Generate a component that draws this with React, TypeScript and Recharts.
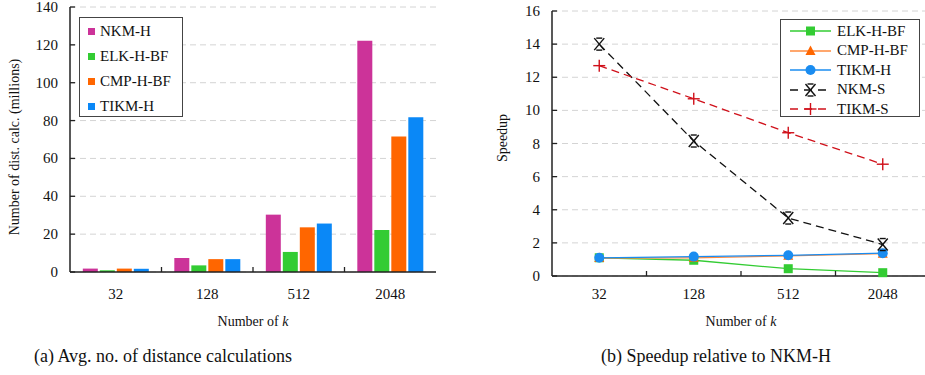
import { BarChart, Bar, LineChart, Line, XAxis, YAxis, CartesianGrid, Legend } from "recharts";

const SERIF = '"Liberation Serif", "Times New Roman", serif';

const categories = ["32", "128", "512", "2048"];

// (a) distance calculations, millions
const nkmH = [1.8, 7.4, 30.3, 122.2];
const elkHbf = [0.9, 3.5, 10.6, 22.2];
const cmpHbf = [1.8, 6.8, 23.6, 71.6];
const tikmH = [1.7, 6.8, 25.6, 81.8];
const distTicks = [0, 20, 40, 60, 80, 100, 120, 140];

// (b) speedup relative to NKM-H
const elkSpeed = [1.1, 0.95, 0.44, 0.2];
const cmpSpeed = [1.08, 1.1, 1.22, 1.35];
const tikmHSpeed = [1.1, 1.17, 1.25, 1.38];
const nkmSSpeed = [14.0, 8.15, 3.5, 1.9];
const tikmSSpeed = [12.7, 10.7, 8.65, 6.75];
const speedTicks = [0, 2, 4, 6, 8, 10, 12, 14, 16];

const barSeries = [
  { key: "nkmH", name: "NKM-H", color: "#cc3399" },
  { key: "elk", name: "ELK-H-BF", color: "#33cc33" },
  { key: "cmp", name: "CMP-H-BF", color: "#ff6600" },
  { key: "tikm", name: "TIKM-H", color: "#0a88f7" },
];

const lineSeries = [
  { key: "elk", name: "ELK-H-BF", color: "#33cc33", dash: undefined, marker: "square" },
  { key: "cmp", name: "CMP-H-BF", color: "#ff8a3d", dash: undefined, marker: "triangle" },
  { key: "tikm", name: "TIKM-H", color: "#1a8cf0", dash: undefined, marker: "circle" },
  { key: "nkmS", name: "NKM-S", color: "#111111", dash: "8 5", marker: "x" },
  { key: "tikmS", name: "TIKM-S", color: "#d0101a", dash: "8 5", marker: "plus" },
];

const barData = categories.map((k, i) => ({
  k,
  nkmH: nkmH[i],
  elk: elkHbf[i],
  cmp: cmpHbf[i],
  tikm: tikmH[i],
}));

const speedData = categories.map((k, i) => ({
  k,
  elk: elkSpeed[i],
  cmp: cmpSpeed[i],
  tikm: tikmHSpeed[i],
  nkmS: nkmSSpeed[i],
  tikmS: tikmSSpeed[i],
}));

const AXIS = "#222";

function Marker({ type, cx, cy, color }: any) {
  if (cx == null || cy == null) return null;
  if (type === "square")
    return <rect x={cx - 4.5} y={cy - 4.5} width={9} height={9} fill="#33cc33" />;
  if (type === "triangle")
    return <path d={`M${cx},${cy - 5.5}L${cx + 5},${cy + 4}L${cx - 5},${cy + 4}Z`} fill="#ff6600" />;
  if (type === "circle") return <circle cx={cx} cy={cy} r={5} fill={color} />;
  if (type === "x")
    return (
      <g stroke={color} strokeWidth={1.4}>
        <line x1={cx - 5} y1={cy - 6} x2={cx + 5} y2={cy + 6} />
        <line x1={cx - 5} y1={cy + 6} x2={cx + 5} y2={cy - 6} />
        <line x1={cx - 3} y1={cy - 6} x2={cx + 3} y2={cy - 6} />
        <line x1={cx - 3} y1={cy + 6} x2={cx + 3} y2={cy + 6} />
      </g>
    );
  return (
    <g stroke={color} strokeWidth={1.4}>
      <line x1={cx - 6} y1={cy} x2={cx + 6} y2={cy} />
      <line x1={cx} y1={cy - 6} x2={cx} y2={cy + 6} />
    </g>
  );
}

function makeYTick(plotLeft: number) {
  return (p: any) => (
    <g>
      <line x1={plotLeft} x2={plotLeft + 5} y1={p.y} y2={p.y} stroke={AXIS} strokeWidth={1.3} />
      <text x={plotLeft - 12} y={p.y} dy={5} textAnchor="end" fontFamily={SERIF} fontSize={15} fill="#111">
        {p.payload.value}
      </text>
    </g>
  );
}

function makeXTick(plotBottom: number, band: number) {
  return (p: any) => (
    <g>
      {p.index > 0 && (
        <line x1={p.x - band / 2} x2={p.x - band / 2} y1={plotBottom} y2={plotBottom - 5} stroke={AXIS} strokeWidth={1.3} />
      )}
      <text x={p.x} y={299} textAnchor="middle" fontFamily={SERIF} fontSize={15} fill="#111">
        {p.payload.value}
      </text>
    </g>
  );
}

function BarLegend() {
  return (
    <div
      style={{
        width: 102,
        height: 98,
        border: "1.5px solid #444",
        background: "#fff",
        position: "relative",
        fontFamily: SERIF,
        fontSize: 15,
        color: "#111",
      }}
    >
      {barSeries.map((s, i) => (
        <div key={s.key} style={{ position: "absolute", left: 8, top: 4 + i * 25, height: 18, display: "flex", alignItems: "center" }}>
          <span style={{ width: 7, height: 7, background: s.color, marginRight: 5 }} />
          <span>{s.name}</span>
        </div>
      ))}
    </div>
  );
}

function LineLegend() {
  return (
    <div
      style={{
        width: 138,
        height: 96,
        border: "1.5px solid #444",
        background: "#fff",
        position: "relative",
        fontFamily: SERIF,
        fontSize: 15,
        color: "#111",
      }}
    >
      {lineSeries.map((s, i) => (
        <div key={s.key} style={{ position: "absolute", left: 9, top: 1 + i * 19.5, height: 20, display: "flex", alignItems: "center" }}>
          <svg width={42} height={20} style={{ marginRight: 5 }}>
            <line x1={0} x2={41} y1={10} y2={10} stroke={s.color} strokeWidth={1.3} strokeDasharray={s.dash ? "8 6" : undefined} />
            <Marker type={s.marker} cx={20.5} cy={10} color={s.color} />
          </svg>
          <span>{s.name}</span>
        </div>
      ))}
    </div>
  );
}

const textStyle: any = { position: "absolute", fontFamily: SERIF, color: "#111", whiteSpace: "nowrap" };

export default function App() {
  return (
    <div style={{ position: "absolute", left: 0, top: 0, width: 925, height: 375, overflow: "hidden", background: "#fff" }}>
      <div style={{ position: "absolute", left: 0, top: 0 }}>
        <BarChart width={445} height={310} data={barData} margin={{ top: 7, right: 9, left: 0, bottom: 0 }} barCategoryGap="14%" barGap={2}>
          <CartesianGrid vertical={false} stroke="#d4d4d4" strokeDasharray="6 4" />
          <XAxis dataKey="k" height={38} tickLine={false} axisLine={{ stroke: AXIS, strokeWidth: 1.5 }} tick={makeXTick(272, 91.5)} interval={0} />
          <XAxis xAxisId="top" dataKey="k" orientation="top" height={0} tick={false} tickLine={false} axisLine={{ stroke: AXIS, strokeWidth: 1.5 }} />
          <YAxis width={70} domain={[0, 140]} ticks={distTicks} tickLine={false} axisLine={{ stroke: AXIS, strokeWidth: 1.5 }} tick={makeYTick(70)} interval={0} />
          <YAxis yAxisId="r" orientation="right" width={0} domain={[0, 140]} tick={false} tickLine={false} axisLine={{ stroke: "#555", strokeWidth: 1.5 }} />
          <Legend
            layout="vertical"
            align="center"
            verticalAlign="middle"
            content={() => <BarLegend />}
            wrapperStyle={{ position: "absolute", left: 79, top: 17, width: "auto", height: "auto" }}
          />
          {barSeries.map((s) => (
            <Bar key={s.key} dataKey={s.key} name={s.name} fill={s.color} isAnimationActive={false} />
          ))}
        </BarChart>
      </div>

      <div style={{ position: "absolute", left: 460, top: 0 }}>
        <LineChart width={470} height={310} data={speedData} margin={{ top: 11, right: 0, left: 0, bottom: 0 }}>
          <CartesianGrid vertical={false} stroke="#d4d4d4" strokeDasharray="6 4" />
          <XAxis
            dataKey="k"
            height={34}
            padding={{ left: 47.25, right: 47.25 }}
            tickLine={false}
            axisLine={{ stroke: AXIS, strokeWidth: 1.5 }}
            tick={makeXTick(276, 94.5)}
            interval={0}
          />
          <XAxis xAxisId="top" dataKey="k" orientation="top" height={0} tick={false} tickLine={false} axisLine={{ stroke: AXIS, strokeWidth: 1.5 }} />
          <YAxis width={92} domain={[0, 16]} ticks={speedTicks} tickLine={false} axisLine={{ stroke: AXIS, strokeWidth: 1.5 }} tick={makeYTick(92)} interval={0} />
          <Legend
            layout="vertical"
            align="center"
            verticalAlign="middle"
            content={() => <LineLegend />}
            wrapperStyle={{ position: "absolute", left: 320, top: 19, width: "auto", height: "auto" }}
          />
          {lineSeries.map((s) => (
            <Line
              key={s.key}
              type="linear"
              dataKey={s.key}
              name={s.name}
              stroke={s.color}
              strokeWidth={1.3}
              strokeDasharray={s.dash}
              isAnimationActive={false}
              dot={(p: any) => <Marker key={`${s.key}-${p.index}`} type={s.marker} cx={p.cx} cy={p.cy} color={s.color} />}
              activeDot={false}
            />
          ))}
        </LineChart>
      </div>

      <div style={{ ...textStyle, left: 15, top: 147, fontSize: 14, transform: "translate(-50%, -50%) rotate(-90deg)" }}>
        Number of dist. calc. (millions)
      </div>
      <div style={{ ...textStyle, left: 503, top: 138, fontSize: 14, transform: "translate(-50%, -50%) rotate(-90deg)" }}>
        Speedup
      </div>
      <div style={{ ...textStyle, left: 253, top: 322, fontSize: 14, transform: "translate(-50%, -50%)" }}>
        Number of <i>k</i>
      </div>
      <div style={{ ...textStyle, left: 741, top: 322, fontSize: 14, transform: "translate(-50%, -50%)" }}>
        Number of <i>k</i>
      </div>
      <div style={{ ...textStyle, left: 163, top: 356, fontSize: 18, transform: "translate(-50%, -50%)" }}>
        (a) Avg. no. of distance calculations
      </div>
      <div style={{ ...textStyle, left: 716, top: 356, fontSize: 18, transform: "translate(-50%, -50%)" }}>
        (b) Speedup relative to NKM-H
      </div>
    </div>
  );
}
